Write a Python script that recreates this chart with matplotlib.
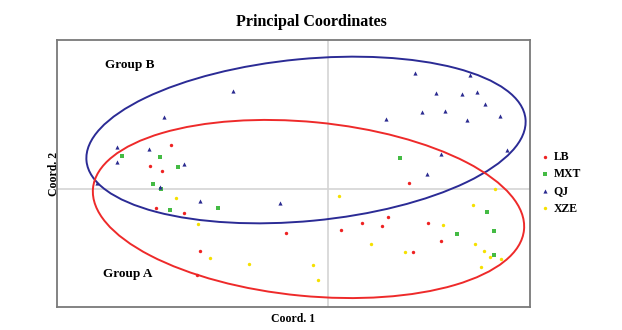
import matplotlib
matplotlib.use("Agg")
import matplotlib.pyplot as plt
from matplotlib.patches import Ellipse

# Coordinates (Coord. 1, Coord. 2)
lb_x = [-1.57, -1.78, -1.66, -1.72, -1.44, -1.28, -0.42, -1.31, 0.81, 0.13, 0.34,
        0.60, 0.54, 1.00, 0.85, 1.13]
lb_y = [0.44, 0.23, 0.18, -0.19, -0.24, -0.62, -0.44, -0.86, 0.06, -0.41, -0.34,
        -0.28, -0.37, -0.34, -0.63, -0.52]

mxt_x = [-2.06, -1.68, -1.50, -1.75, -1.67, -1.58, -1.10, 0.72, 1.59, 1.29, 1.66, 1.66]
mxt_y = [0.33, 0.32, 0.22, 0.05, 0.00, -0.21, -0.19, 0.31, -0.23, -0.45, -0.42, -0.66]

qj_x = [-1.64, -0.95, -2.11, -1.79, -2.11, -1.44, -2.31, -1.68, -1.28, -0.48, 0.87,
        1.42, 1.08, 1.34, 1.49, 1.57, 0.94, 1.17, 1.39, 1.72, 0.58, 1.79, 1.13, 0.99]
qj_y = [0.72, 0.98, 0.42, 0.40, 0.27, 0.25, 0.06, 0.02, -0.12, -0.14, 1.16, 1.14,
        0.96, 0.95, 0.97, 0.85, 0.77, 0.78, 0.69, 0.73, 0.70, 0.39, 0.35, 0.15]

xze_x = [-1.52, -1.30, -1.18, -0.79, -0.15, -0.10, 0.11, 0.43, 0.77, 1.67, 1.45, 1.15,
         1.47, 1.56, 1.62, 1.73, 1.53]
xze_y = [-0.09, -0.35, -0.69, -0.75, -0.76, -0.91, -0.07, -0.55, -0.63, 0.00, -0.16,
         -0.36, -0.55, -0.62, -0.68, -0.70, -0.78]

series_names = ["LB", "MXT", "QJ", "XZE"]
group_labels = ["Group A", "Group B"]

fig = plt.figure(figsize=(6.22, 3.30), dpi=100)
ax = fig.add_axes([57 / 622, 1 - 307 / 330, (530 - 57) / 622, (307 - 40) / 330])
ax.set_xlim(-2.71, 2.02)
ax.set_ylim(-1.18, 1.49)

ax.axvline(0, color="#d4d4d4", lw=1.2, zorder=0)
ax.axhline(0, color="#d4d4d4", lw=1.2, zorder=0)

ax.scatter(lb_x, lb_y, marker="o", s=6, color="#ee2222", linewidths=0, label=series_names[0], zorder=3)
ax.scatter(mxt_x, mxt_y, marker="s", s=9, color="#44bb44", linewidths=0, label=series_names[1], zorder=3)
ax.scatter(qj_x, qj_y, marker="^", s=9, color="#2a2a90", linewidths=0, label=series_names[2], zorder=3)
ax.scatter(xze_x, xze_y, marker="o", s=6, color="#f5e000", linewidths=0, label=series_names[3], zorder=3)

ax.add_patch(Ellipse((-0.22, 0.49), 4.41, 1.62, angle=5.47, fill=False,
                     edgecolor="#2b2b95", lw=1.4, zorder=2))
ax.add_patch(Ellipse((-0.195, -0.20), 4.33, 1.74, angle=-5.52, fill=False,
                     edgecolor="#ee2a2a", lw=1.4, zorder=2))

ax.text(-2.00, -0.85, group_labels[0], fontsize=9.5, fontweight="bold",
        family="Liberation Serif", ha="center", va="center")
ax.text(-1.98, 1.24, group_labels[1], fontsize=9.5, fontweight="bold",
        family="Liberation Serif", ha="center", va="center")

for s in ax.spines.values():
    s.set_color("#7a7a7a")
    s.set_linewidth(1.3)
ax.set_xticks([])
ax.set_yticks([])

ax.set_xlabel("Coord. 1", fontsize=8.5, fontweight="bold", family="Liberation Serif", labelpad=4)
ax.set_ylabel("Coord. 2", fontsize=8.5, fontweight="bold", family="Liberation Serif", labelpad=-2)
fig.text(311 / 622, 1 - 22 / 330, "Principal Coordinates", fontsize=11.5, fontweight="bold",
         family="Liberation Serif", ha="center", va="center")

leg = ax.legend(loc="center left", bbox_to_anchor=(0.997, 0.466), frameon=False,
                prop={"family": "Liberation Serif", "weight": "bold", "size": 8.5},
                handletextpad=0.2, labelspacing=0.45, markerscale=1.0, handlelength=1.0)

fig.savefig("out.png", dpi=100)
